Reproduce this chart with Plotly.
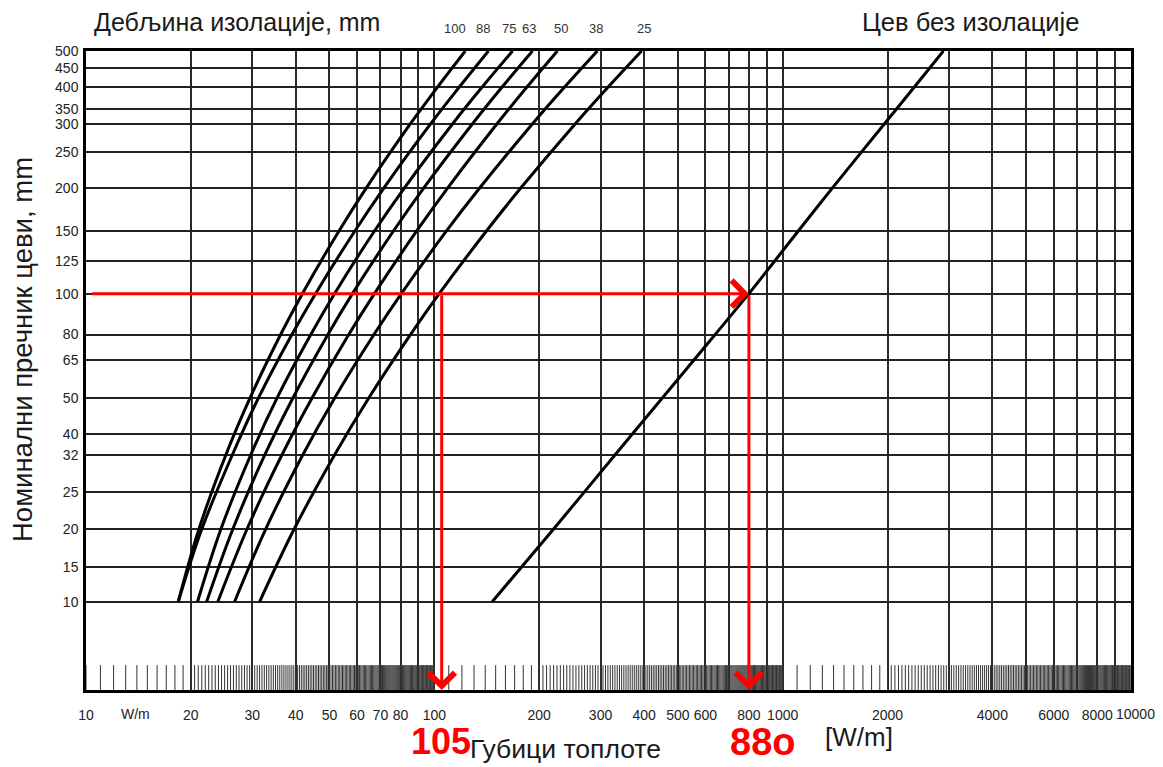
import numpy as np
import plotly.graph_objects as go

# ---- vertical scale: nominal pipe size (DN) placed at its outside diameter ----
dn_labels = ["10", "15", "20", "25", "32", "40", "50", "65", "80", "100", "125",
             "150", "200", "250", "300", "350", "400", "450", "500"]
dn_values = [10, 15, 20, 25, 32, 40, 50, 65, 80, 100, 125, 150, 200, 250, 300, 350, 400, 450, 500]
outer_diameter_mm = [17.2, 21.3, 26.9, 33.7, 42.4, 48.3, 60.3, 76.1, 88.9, 114.3, 139.7,
                     168.3, 219.1, 273.0, 323.9, 355.6, 406.4, 457.0, 508.0]

# ---- heat loss W/m read at these pipe sizes ----
curve_dn = [10, 20, 32, 50, 80, 100, 150, 200, 300, 400, 500]
insulation_mm = ["100", "88", "75", "63", "50", "38", "25"]
loss_ins_100 = [18.4, 21.1, 25.2, 29.6, 36.2, 41.8, 53.3, 63.8, 85.2, 102.0, 122.7]
loss_ins_88 = [18.4, 21.5, 26.3, 31.3, 39.0, 45.6, 59.2, 71.7, 97.4, 117.8, 143.0]
loss_ins_75 = [20.9, 24.4, 29.7, 35.4, 44.2, 51.7, 67.4, 82.1, 112.6, 137.0, 167.7]
loss_ins_63 = [22.2, 26.4, 32.6, 39.3, 49.5, 58.2, 76.4, 93.3, 128.4, 156.3, 191.3]
loss_ins_50 = [23.9, 29.0, 36.5, 44.6, 56.8, 67.3, 89.1, 109.3, 151.0, 184.2, 225.6]
loss_ins_38 = [26.7, 32.8, 41.9, 51.8, 67.1, 80.4, 108.5, 135.1, 190.9, 236.2, 293.8]
loss_ins_25 = [31.5, 39.6, 51.7, 64.9, 85.4, 103.3, 141.3, 177.3, 253.3, 315.1, 393.6]
loss_bare = [146.6, 220.0, 330.0, 452.0, 640.0, 800.0, 1110.0, 1390.0, 1955.0, 2385.0, 2893.0]

# ---- worked example (red arrows) ----
example_dn = 100
example_losses = [105, 800]
example_labels = ["105", "88o"]

# ---- horizontal axis ticks ----
x_grid_values = [10, 20, 30, 40, 50, 60, 70, 80, 90, 100, 200, 300, 400, 500, 600, 700, 800, 900,
                 1000, 2000, 3000, 4000, 5000, 6000, 7000, 8000, 9000, 10000]
x_labelled = [10, 20, 30, 40, 50, 60, 70, 80, 100, 200, 300, 400, 500, 600, 800, 1000,
              2000, 4000, 6000, 8000]
x_last_label = 10000

od_of = dict(zip(dn_values, outer_diameter_mm))
curve_y = [od_of[d] for d in curve_dn]

# printed log-scale ruler along the bottom edge (fine tick band)
ruler = []
for dec in [10, 100, 1000]:
    ruler += list(np.arange(1.0, 2.0, 0.1) * dec)
    ruler += list(np.arange(2.0, 3.0, 0.05) * dec)
    ruler += list(np.arange(3.0, 10.0, 0.05) * dec)
ruler = [float(v) for v in ruler]
ruler_bottom, ruler_top = 10.0, 11.65   # band height on the diameter scale

# page body has an 8px margin; figure placed so the plot frame lands at
# x 86..1131, y 51..690 of the window
OFF = 8
W, H = 1155, 759
L, R, T, B = 86 - OFF, OFF + W - 1131, 51 - OFF, OFF + H - 690
PW, PH = W - L - R, H - T - B


def px(x):
    return (x - OFF - L) / PW


def py(y):
    return (OFF + H - B - y) / PH


fig = go.Figure()

rx, ry = [], []
for v in ruler:
    rx += [v, v, None]
    ry += [ruler_bottom, ruler_top, None]
fig.add_trace(go.Scatter(x=rx, y=ry, mode="lines", line=dict(color="#333", width=1),
                         hoverinfo="skip", showlegend=False))

series = [loss_ins_100, loss_ins_88, loss_ins_75, loss_ins_63, loss_ins_50, loss_ins_38, loss_ins_25]
for name, vals in zip(insulation_mm, series):
    fig.add_trace(go.Scatter(x=vals, y=curve_y, mode="lines", name=name,
                             line=dict(color="black", width=3, shape="spline", smoothing=1.0),
                             hoverinfo="skip", showlegend=False))
fig.add_trace(go.Scatter(x=loss_bare, y=curve_y, mode="lines", name="bare",
                         line=dict(color="black", width=3, shape="spline", smoothing=0.6),
                         hoverinfo="skip", showlegend=False))

tick_font = dict(family="Liberation Sans, Arial, sans-serif", size=14, color="#222")

fig.update_xaxes(type="log", range=[1, 4],
                 tickmode="array", tickvals=x_grid_values,
                 ticktext=[str(v) if v in x_labelled else "" for v in x_grid_values],
                 tickfont=tick_font, ticks="", ticklabelstandoff=10, tickangle=0,
                 showgrid=True, gridcolor="#2a2a2a", gridwidth=1.6,
                 showline=True, linecolor="black", linewidth=2.5, mirror=True,
                 zeroline=False)
fig.update_yaxes(type="log", range=[1, np.log10(508.0)],
                 tickmode="array", tickvals=outer_diameter_mm, ticktext=dn_labels,
                 tickfont=dict(family="Liberation Sans, Arial, sans-serif", size=14, color="#222"),
                 ticks="", ticklabelstandoff=2,
                 showgrid=True, gridcolor="#222", gridwidth=2,
                 showline=True, linecolor="black", linewidth=2.5, mirror=True,
                 zeroline=False)

ann = []
# red example arrows
yex = np.log10(od_of[example_dn])
ann.append(dict(x=np.log10(example_losses[1]), y=yex, ax=np.log10(10.3), ay=yex,
                xref="x", yref="y", axref="x", ayref="y", text="", showarrow=True,
                arrowhead=4, arrowsize=1.7, arrowwidth=3, arrowcolor="red", standoff=0))
for v in example_losses:
    ann.append(dict(x=np.log10(v), y=1.0, ax=np.log10(v), ay=yex,
                    xref="x", yref="y", axref="x", ayref="y", text="", showarrow=True,
                    arrowhead=4, arrowsize=1.7, arrowwidth=3, arrowcolor="red", standoff=0))

# last x tick label, nudged so it does not collide with 8000
ann.append(dict(x=np.log10(x_last_label), y=py(714), xref="x", yref="paper",
                text=str(x_last_label), showarrow=False, xshift=4,
                xanchor="center", yanchor="middle", font=tick_font))

# curve labels at top
label_shift = [-10, -5, -4, -3, 4, -1, 2]
for name, vals, sh in zip(insulation_mm, series, label_shift):
    ann.append(dict(x=np.log10(vals[-1]), y=py(29), xref="x", yref="paper", text=name,
                    showarrow=False, xshift=sh, xanchor="center", yanchor="middle",
                    font=dict(family="Liberation Sans, Arial", size=13, color="#333")))


def text_ann(x, y, text, size, angle=0, anchor="center", color="#1a1a1a", weight="normal"):
    return dict(x=px(x), y=py(y), xref="paper", yref="paper", text=text, showarrow=False,
                xanchor=anchor, yanchor="middle", textangle=angle,
                font=dict(family="Liberation Sans, Arial, sans-serif", size=size,
                          color=color, weight=weight))


ann.append(text_ann(92, 22, "Дебљина изолације, mm", 25, anchor="left"))
ann.append(text_ann(970, 22, "Цев без изолације", 25.5))
ann.append(text_ann(22, 350, "Номинални пречник цеви, mm", 27.5, angle=-90))
ann.append(text_ann(565, 749, "Губици топлоте", 26.5))
ann.append(text_ann(859, 737, "[W/m]", 26))
ann.append(text_ann(135, 714, "W/m", 14, color="#222"))
ann.append(text_ann(441, 741, example_labels[0], 36, color="red", weight="bold"))
ann.append(text_ann(762, 742, example_labels[1], 38, color="red", weight="bold"))

fig.update_layout(width=W, height=H, margin=dict(l=L, r=R, t=T, b=B),
                  paper_bgcolor="white", plot_bgcolor="white",
                  annotations=ann, showlegend=False)

fig.write_html("out.html")
